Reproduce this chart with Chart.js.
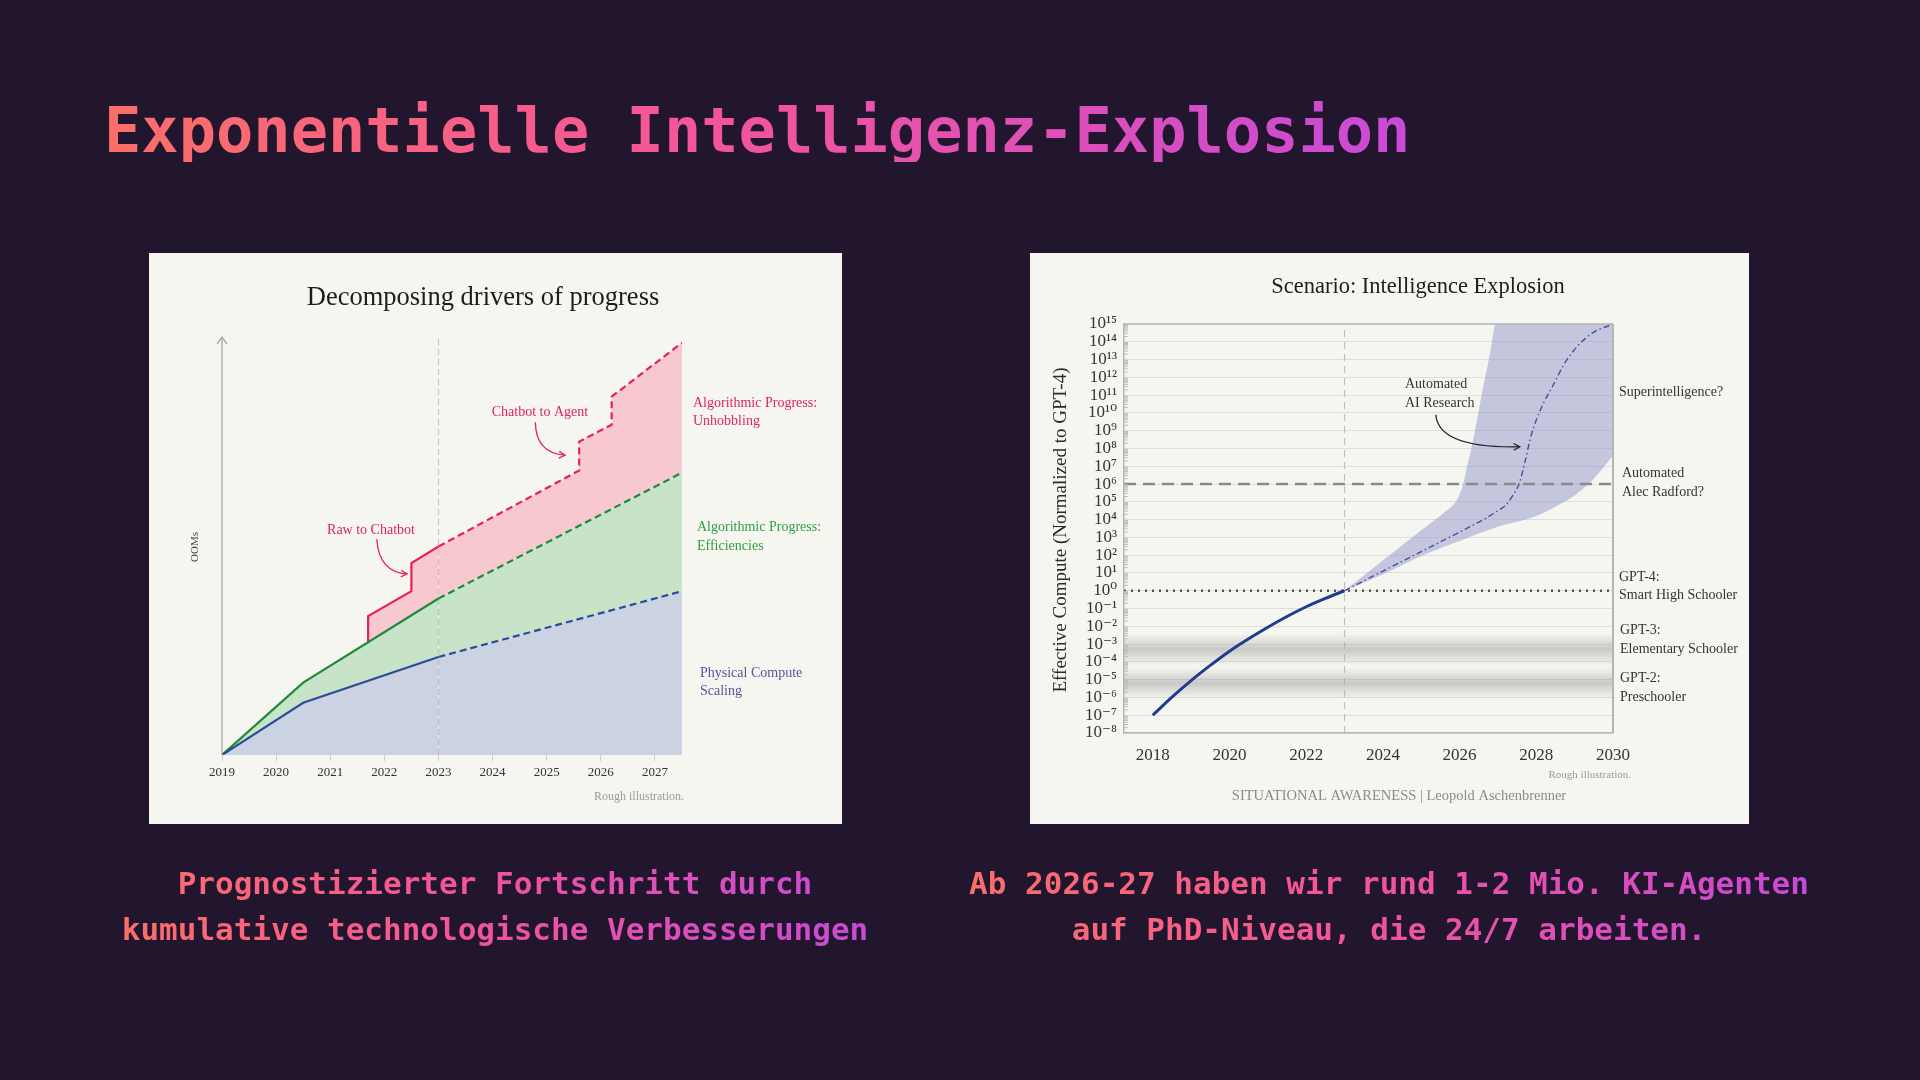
<!DOCTYPE html>
<html>
<head>
<meta charset="utf-8">
<title>Exponentielle Intelligenz-Explosion</title>
<script src="https://cdn.jsdelivr.net/npm/chart.js@4.4.1/dist/chart.umd.min.js"></script>
<style>
  html, body { margin: 0; padding: 0; }
  body {
    width: 1920px; height: 1080px; overflow: hidden; position: relative;
    background: #22162f;
    font-family: "DejaVu Sans Mono", monospace;
  }
  .grad {
    background: linear-gradient(90deg, #fb6f68 0%, #f4559a 45%, #c84ad6 100%);
    -webkit-background-clip: text; background-clip: text; color: transparent;
  }
  h1 {
    position: absolute; left: 104px; top: 100px; margin: 0;
    font-size: 62px; line-height: 62px; font-weight: bold; white-space: nowrap;
  }
  .panel { position: absolute; top: 253px; height: 571px; background: #f6f6f1; }
  .panel canvas { display: block; }
  .cap {
    position: absolute; top: 860px; transform: translateX(-50%); text-align: center;
    font-size: 31px; line-height: 46px; font-weight: bold; white-space: nowrap;
  }
</style>
</head>
<body>
<h1 class="grad">Exponentielle Intelligenz-Explosion</h1>

<div class="panel" style="left:149px;width:693px;"><canvas id="leftChart" width="693" height="571"></canvas></div>
<div class="panel" style="left:1030px;width:719px;"><canvas id="rightChart" width="719" height="571"></canvas></div>

<div class="cap grad" style="left:495px;">Prognostizierter Fortschritt durch<br>kumulative technologische Verbesserungen</div>
<div class="cap grad" style="left:1389px;">Ab 2026-27 haben wir rund 1-2 Mio. KI-Agenten<br>auf PhD-Niveau, die 24/7 arbeiten.</div>

<script>
// ---- left chart: decomposing drivers of progress (arbitrary OOM units) ----
const computeX = [2019, 2020.5, 2023, 2027.5];
const computeY = [0, 1.43, 2.68, 4.48];
const efficiencyX = [2019, 2020.5, 2023, 2027.5];
const efficiencyY = [0, 1.98, 4.28, 7.72];
const unhobblingX = [2021.7, 2021.7, 2022.5, 2022.5, 2023, 2025.6, 2025.6, 2026.2, 2026.2, 2027.5];
const unhobblingY = [3.06, 3.80, 4.48, 5.25, 5.70, 7.78, 8.57, 9.03, 9.80, 11.27];

// ---- right chart: effective compute, exponents of 10 (normalized to GPT-4) ----
const histX = [2018, 2018.5, 2019, 2019.5, 2020, 2020.5, 2021, 2021.5, 2022, 2022.5, 2023];
const histExp = [-7, -5.98, -5.05, -4.2, -3.4, -2.7, -2.05, -1.45, -0.9, -0.43, 0];
const medianX = [2023, 2024, 2025, 2026, 2026.7, 2027, 2027.2, 2027.4, 2027.55, 2027.7, 2027.85, 2028, 2028.2, 2028.4, 2028.8, 2029.4, 2030];
const medianExp = [0, 1.1, 2.2, 3.3, 4.1, 4.5, 4.8, 5.4, 6.0, 7.2, 8.6, 9.6, 10.6, 11.4, 13.0, 14.4, 15];
const upperX = [2023, 2024, 2025, 2025.6, 2025.9, 2026.05, 2026.2, 2026.4, 2026.6, 2026.8, 2026.95, 2030];
const upperExp = [0, 1.7, 3.4, 4.4, 5.0, 5.7, 7.0, 9.0, 11.3, 13.4, 15, 15];
const lowerX = [2023, 2024, 2025, 2026, 2027, 2028, 2028.6, 2029, 2029.5, 2030];
const lowerExp = [0, 0.93, 1.96, 2.8, 3.6, 4.2, 4.85, 5.36, 6.3, 7.6];
const decadeExps = [-8, -7, -6, -5, -4, -3, -2, -1, 0, 1, 2, 3, 4, 5, 6, 7, 8, 9, 10, 11, 12, 13, 14, 15];
const milestoneExps = [6, 0];          // Automated Alec Radford?, GPT-4
const schoolBandExps = [-3.3, -5.2];   // GPT-3, GPT-2

const SERIF = '"Liberation Serif", "DejaVu Serif", serif';

function pts(xs, ys) { return xs.map((x, i) => ({ x: x, y: ys[i] })); }
function logPts(xs, es) { return xs.map((x, i) => ({ x: x, y: Math.pow(10, es[i]) })); }
function dashAfter(year, dash) {
  return ctx => (ctx.p0.parsed.x >= year - 1e-9 ? dash : undefined);
}

function text(ctx, str, x, y, font, color, align) {
  ctx.font = font;
  ctx.fillStyle = color;
  ctx.textAlign = align || 'left';
  ctx.textBaseline = 'middle';
  ctx.fillText(str, x, y);
}

function curvedArrow(ctx, x0, y0, cx, cy, x1, y1, color) {
  ctx.save();
  ctx.strokeStyle = color;
  ctx.lineWidth = 1.3;
  ctx.setLineDash([]);
  ctx.beginPath();
  ctx.moveTo(x0, y0);
  ctx.quadraticCurveTo(cx, cy, x1, y1);
  ctx.stroke();
  const ang = Math.atan2(y1 - cy, x1 - cx);
  const len = 7;
  ctx.beginPath();
  ctx.moveTo(x1 - len * Math.cos(ang - 0.5), y1 - len * Math.sin(ang - 0.5));
  ctx.lineTo(x1, y1);
  ctx.lineTo(x1 - len * Math.cos(ang + 0.5), y1 - len * Math.sin(ang + 0.5));
  ctx.stroke();
  ctx.restore();
}

const leftDecor = {
  id: 'leftDecor',
  beforeDatasetsDraw(chart) {
    const { ctx, chartArea: a, scales: { x } } = chart;
    ctx.save();
    const x23 = x.getPixelForValue(2023);
    ctx.strokeStyle = 'rgba(160,160,160,0.55)';
    ctx.lineWidth = 1.2;
    ctx.setLineDash([6, 4]);
    ctx.beginPath(); ctx.moveTo(x23, a.bottom); ctx.lineTo(x23, a.top); ctx.stroke();
    ctx.restore();
  },
  afterDraw(chart) {
    const { ctx, chartArea: a, scales: { x, y } } = chart;
    ctx.save();
    // y axis with arrow
    ctx.strokeStyle = '#a8a8a8';
    ctx.lineWidth = 1.3;
    ctx.beginPath(); ctx.moveTo(a.left, a.bottom); ctx.lineTo(a.left, a.top); ctx.stroke();
    ctx.beginPath();
    ctx.moveTo(a.left - 5, a.top + 7); ctx.lineTo(a.left, a.top); ctx.lineTo(a.left + 5, a.top + 7);
    ctx.stroke();

    text(ctx, 'Decomposing drivers of progress', 334, 45, '26.5px ' + SERIF, '#1d1d1d', 'center');

    ctx.save();
    ctx.translate(46, 294);
    ctx.rotate(-Math.PI / 2);
    text(ctx, 'OOMs', 0, 0, '11px ' + SERIF, '#444', 'center');
    ctx.restore();

    const red = '#e0245a';
    const f = '14px ' + SERIF;
    text(ctx, 'Raw to Chatbot', 222, 277, f, red, 'center');
    curvedArrow(ctx,
      x.getPixelForValue(2021.86), y.getPixelForValue(5.9),
      x.getPixelForValue(2021.9), y.getPixelForValue(5.0),
      x.getPixelForValue(2022.42), y.getPixelForValue(4.95), red);
    text(ctx, 'Chatbot to Agent', 391, 159, f, red, 'center');
    curvedArrow(ctx,
      x.getPixelForValue(2024.79), y.getPixelForValue(9.1),
      x.getPixelForValue(2024.8), y.getPixelForValue(8.25),
      x.getPixelForValue(2025.34), y.getPixelForValue(8.2), red);

    text(ctx, 'Algorithmic Progress:', 544, 150, f, red);
    text(ctx, 'Unhobbling', 544, 168, f, red);
    text(ctx, 'Algorithmic Progress:', 548, 274, f, '#2e9e3e');
    text(ctx, 'Efficiencies', 548, 293, f, '#2e9e3e');
    text(ctx, 'Physical Compute', 551, 420, f, '#55559a');
    text(ctx, 'Scaling', 551, 438, f, '#55559a');
    text(ctx, 'Rough illustration.', 535, 544, '12px ' + SERIF, '#9a9a9a', 'right');
    ctx.restore();
  }
};

new Chart(document.getElementById('leftChart'), {
  type: 'line',
  data: {
    datasets: [
      { label: 'Physical Compute Scaling', data: pts(computeX, computeY),
        borderColor: '#2b4c9b', backgroundColor: '#cbd2e2', fill: 'origin',
        segment: { borderDash: dashAfter(2023, [7, 4]) } },
      { label: 'Algorithmic Progress: Efficiencies', data: pts(efficiencyX, efficiencyY),
        borderColor: '#1f8a3a', backgroundColor: '#c7e3c8', fill: '-1',
        segment: { borderDash: dashAfter(2023, [7, 4]) } },
      { label: 'Algorithmic Progress: Unhobbling', data: pts(unhobblingX, unhobblingY),
        borderColor: '#e6215a', backgroundColor: '#f8c8d1', fill: '-1',
        segment: { borderDash: dashAfter(2023, [7, 4]) } }
    ]
  },
  options: {
    responsive: false,
    animation: false,
    layout: { padding: { left: 73, right: 160, top: 84, bottom: 42 } },
    elements: { point: { radius: 0 }, line: { borderWidth: 2.2, tension: 0 } },
    plugins: { legend: { display: false }, tooltip: { enabled: false }, filler: { drawTime: 'beforeDatasetsDraw' } },
    scales: {
      x: {
        type: 'linear', min: 2019, max: 2027.5,
        afterFit(s) { s.height = 27; },
        ticks: { stepSize: 1, includeBounds: false, callback: v => String(v),
                 font: { family: SERIF, size: 13 }, color: '#333', padding: 4 },
        grid: { drawOnChartArea: false, tickLength: 6, color: '#cfcfcf' },
        border: { display: false }
      },
      y: { min: 0, max: 11.43, display: false }
    }
  },
  plugins: [leftDecor]
});

const SUP = { '-': '\u207B', '0': '\u2070', '1': '\u00B9', '2': '\u00B2', '3': '\u00B3', '4': '\u2074',
              '5': '\u2075', '6': '\u2076', '7': '\u2077', '8': '\u2078', '9': '\u2079' };
function powLabel(v) {
  const e = Math.round(Math.log10(v));
  return '10' + String(e).split('').map(c => SUP[c]).join('');
}

const rightDecor = {
  id: 'rightDecor',
  beforeDatasetsDraw(chart) {
    const { ctx, chartArea: a, scales: { x, y } } = chart;
    ctx.save();
    // school-level bands
    schoolBandExps.forEach(c => {
      const top = y.getPixelForValue(Math.pow(10, c + 0.9));
      const bot = y.getPixelForValue(Math.pow(10, c - 0.9));
      const g = ctx.createLinearGradient(0, top, 0, bot);
      g.addColorStop(0, 'rgba(140,140,140,0)');
      g.addColorStop(0.5, 'rgba(140,140,140,0.42)');
      g.addColorStop(1, 'rgba(140,140,140,0)');
      ctx.fillStyle = g;
      ctx.fillRect(a.left, top, a.right - a.left, bot - top);
    });
    // 2023 marker
    const x23 = x.getPixelForValue(2023);
    ctx.strokeStyle = 'rgba(170,170,170,0.7)';
    ctx.lineWidth = 1.2;
    ctx.setLineDash([7, 5]);
    ctx.beginPath(); ctx.moveTo(x23, a.bottom); ctx.lineTo(x23, a.top); ctx.stroke();
    // milestones
    const yR = y.getPixelForValue(Math.pow(10, milestoneExps[0]));
    ctx.strokeStyle = '#8a8a8a'; ctx.lineWidth = 2.4; ctx.setLineDash([12, 7]);
    ctx.beginPath(); ctx.moveTo(a.left, yR); ctx.lineTo(a.right, yR); ctx.stroke();
    const y4 = y.getPixelForValue(Math.pow(10, milestoneExps[1]));
    ctx.strokeStyle = '#555'; ctx.lineWidth = 2.4; ctx.setLineDash([2, 5]);
    ctx.beginPath(); ctx.moveTo(a.left, y4); ctx.lineTo(a.right, y4); ctx.stroke();
    // minor log ticks on the left axis
    ctx.setLineDash([]);
    ctx.strokeStyle = '#bdbdbd'; ctx.lineWidth = 1;
    decadeExps.slice(0, -1).forEach(e => {
      for (let k = 2; k < 10; k++) {
        const py = y.getPixelForValue(k * Math.pow(10, e));
        ctx.beginPath(); ctx.moveTo(a.left, py); ctx.lineTo(a.left + 4, py); ctx.stroke();
      }
    });
    ctx.restore();
  },
  afterDraw(chart) {
    const { ctx, chartArea: a, scales: { x, y } } = chart;
    ctx.save();
    ctx.strokeStyle = '#b5b5b5';
    ctx.lineWidth = 1.5;
    ctx.beginPath(); ctx.moveTo(a.left, a.top); ctx.lineTo(a.right, a.top); ctx.stroke();
    ctx.lineWidth = 2;
    ctx.beginPath(); ctx.moveTo(a.right, a.top); ctx.lineTo(a.right, a.bottom); ctx.stroke();

    text(ctx, 'Scenario: Intelligence Explosion', 388, 34, '22.5px ' + SERIF, '#1d1d1d', 'center');

    ctx.save();
    ctx.translate(31, 277);
    ctx.rotate(-Math.PI / 2);
    text(ctx, 'Effective Compute (Normalized to GPT-4)', 0, 0, '19px ' + SERIF, '#2a2a2a', 'center');
    ctx.restore();

    const f = '14px ' + SERIF, c = '#333';
    text(ctx, 'Automated', 375, 131, f, c);
    text(ctx, 'AI Research', 375, 150, f, c);
    curvedArrow(ctx,
      x.getPixelForValue(2025.38), y.getPixelForValue(Math.pow(10, 9.9)),
      x.getPixelForValue(2025.45), y.getPixelForValue(Math.pow(10, 8.0)),
      x.getPixelForValue(2027.57), y.getPixelForValue(Math.pow(10, 8.1)), '#222');

    const lx = a.right + 6;
    text(ctx, 'Superintelligence?', lx, 139, f, c);
    text(ctx, 'Automated', lx + 3, 220, f, c);
    text(ctx, 'Alec Radford?', lx + 3, 239, f, c);
    text(ctx, 'GPT-4:', lx, 324, f, c);
    text(ctx, 'Smart High Schooler', lx, 342, f, c);
    text(ctx, 'GPT-3:', lx + 1, 377, f, c);
    text(ctx, 'Elementary Schooler', lx + 1, 396, f, c);
    text(ctx, 'GPT-2:', lx + 1, 425, f, c);
    text(ctx, 'Preschooler', lx + 1, 444, f, c);

    text(ctx, 'Rough illustration.', 601, 522, '11px ' + SERIF, '#9a9a9a', 'right');
    text(ctx, 'SITUATIONAL AWARENESS | Leopold Aschenbrenner', 369, 543, '14.5px ' + SERIF, '#8a8a8a', 'center');
    ctx.restore();
  }
};

new Chart(document.getElementById('rightChart'), {
  type: 'line',
  data: {
    datasets: [
      { label: 'Upper range', data: logPts(upperX, upperExp), borderWidth: 0,
        borderColor: 'rgba(0,0,0,0)', backgroundColor: 'rgba(135,140,200,0.45)', fill: '+1',
        cubicInterpolationMode: 'monotone' },
      { label: 'Lower range', data: logPts(lowerX, lowerExp), borderWidth: 0,
        borderColor: 'rgba(0,0,0,0)', fill: false, cubicInterpolationMode: 'monotone' },
      { label: 'Projection', data: logPts(medianX, medianExp), borderColor: '#4a4aa2',
        borderWidth: 1.4, borderDash: [6, 3, 1.5, 3], fill: false, cubicInterpolationMode: 'monotone' },
      { label: 'Historical', data: logPts(histX, histExp), borderColor: '#1f3d8c',
        borderWidth: 3, fill: false, cubicInterpolationMode: 'monotone' }
    ]
  },
  options: {
    responsive: false,
    animation: false,
    layout: { padding: { left: 34, right: 136, top: 71, bottom: 61 } },
    elements: { point: { radius: 0 } },
    plugins: { legend: { display: false }, tooltip: { enabled: false }, filler: { drawTime: 'beforeDatasetsDraw' } },
    scales: {
      x: {
        type: 'linear', min: 2017.25, max: 2030,
        afterFit(s) { s.height = 30; },
        ticks: { stepSize: 2, includeBounds: false, callback: v => String(v),
                 font: { family: SERIF, size: 17 }, color: '#333', padding: 12 },
        grid: { drawOnChartArea: false, drawTicks: false },
        border: { color: '#b5b5b5', width: 1.5 }
      },
      y: {
        type: 'logarithmic', min: 1e-8, max: 1e15,
        afterFit(s) { s.width = 60; },
        afterBuildTicks(s) { s.ticks = decadeExps.map(e => ({ value: Math.pow(10, e) })); },
        ticks: { callback: v => powLabel(v), autoSkip: false,
                 font: { family: SERIF, size: 17 }, color: '#333', padding: 7 },
        grid: { color: '#dedede', drawTicks: false },
        border: { color: '#b5b5b5', width: 1.5 }
      }
    }
  },
  plugins: [rightDecor]
});
</script>
</body>
</html>
